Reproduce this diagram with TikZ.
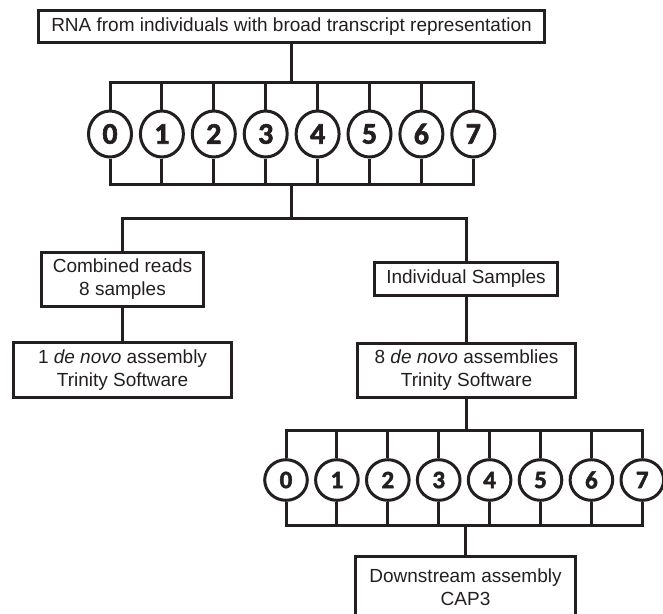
\documentclass[tikz,border=0pt]{standalone}
\usepackage{fontspec}
\setmainfont{Liberation Sans}
\newfontfamily\digitfont{Carlito}[FakeBold=2]
\usetikzlibrary{shapes.geometric}
\definecolor{ink}{RGB}{35,31,32}
\begin{document}
\begin{tikzpicture}[x=1pt,y=-1pt,line width=3pt,color=ink,
  box/.style={draw,line width=3pt,inner sep=0pt,align=center,text=ink,
    font=\fontsize{19}{23}\selectfont},
  numbig/.style={draw,ellipse,line width=3pt,inner sep=0pt,
    minimum width=43pt,minimum height=46pt,
    font=\digitfont\bfseries\fontsize{30}{30}\selectfont},
  numsmall/.style={draw,ellipse,line width=3pt,inner sep=0pt,
    minimum width=42.6pt,minimum height=40.6pt,
    font=\digitfont\bfseries\fontsize{25}{25}\selectfont}]
\useasboundingbox (0,0) rectangle (663,613);
\clip (0,0) rectangle (663,613);

% top box
\node[box,minimum width=506pt,minimum height=32pt] (top) at (291.5,26.5)
  {RNA from individuals with broad transcript representation};

% top circles
\foreach \i in {0,...,7}
  \node[numbig] (t\i) at ({110+51.9*\i},134) {\i};

\coordinate (tbar) at (291.5,82);
\coordinate (tbot) at (291.5,184);
\coordinate (branch) at (291.5,218);

% left branch
\node[box,minimum width=162pt,minimum height=54pt] (comb) at (122.5,279.5)
  {Combined reads\\8 samples};
\node[box,minimum width=218pt,minimum height=55pt] (one) at (122.5,370)
  {1 \textit{de novo} assembly\\Trinity Software};

% right branch
\node[box,minimum width=183pt,minimum height=33pt] (indiv) at (466,279)
  {Individual Samples};
\node[box,minimum width=218pt,minimum height=54pt] (eight) at (466.5,370.5)
  {8 \textit{de novo} assemblies\\Trinity Software};

% bottom circles
\foreach \i in {0,...,7}
  \node[numsmall] (b\i) at ({286+50.9*\i},480) {\i};

\coordinate (bbar) at (465,430);
\coordinate (bbot) at (465,525);

\node[box,minimum width=220pt,minimum height=62pt] (down) at (465.5,587.5)
  {Downstream assembly\\CAP3};

% connectors top
\draw (top.south) -- (tbar);
\draw (t0.north) |- (t7.north |- tbar) -- (t7.north);
\draw (t0.south) |- (t7.south |- tbot) -- (t7.south);
\foreach \i in {1,...,6} {
  \draw (t\i.north) -- (t\i.north |- tbar);
  \draw (t\i.south) -- (t\i.south |- tbot);
}
\draw (tbot) -- (branch);
\draw (comb.north) |- (indiv.north |- branch) -- (indiv.north);
\draw (comb.south) -- (one.north);
\draw (indiv.south) -- (indiv.south |- eight.north);

% connectors bottom
\draw (eight.south) -- (eight.south |- bbar);
\draw (b0.north) |- (b7.north |- bbar) -- (b7.north);
\draw (b0.south) |- (b7.south |- bbot) -- (b7.south);
\foreach \i in {1,...,6} {
  \draw (b\i.north) -- (b\i.north |- bbar);
  \draw (b\i.south) -- (b\i.south |- bbot);
}
\draw (bbot) -- (bbot |- down.north);
\end{tikzpicture}
\end{document}
